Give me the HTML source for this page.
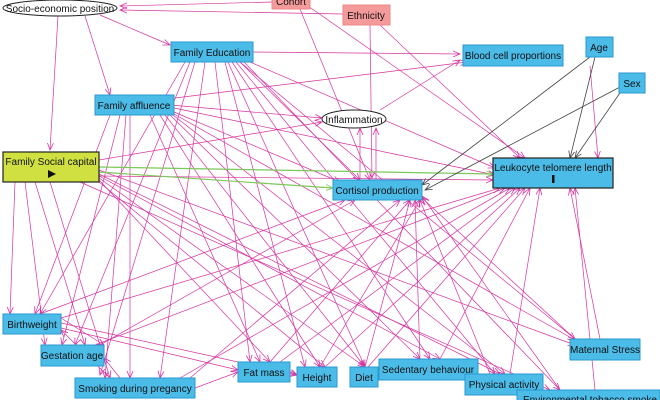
<!DOCTYPE html>
<html><head><meta charset="utf-8"><style>
body{margin:0;background:#fff;width:660px;height:400px;overflow:hidden}
svg{display:block}
text{font-family:"Liberation Sans",sans-serif;font-size:10px;fill:#111}
</style></head><body>
<svg width="660" height="400" xmlns="http://www.w3.org/2000/svg">
<defs>
<marker id="mp" markerWidth="8" markerHeight="8" refX="7" refY="4" orient="auto" markerUnits="userSpaceOnUse"><path d="M0,1 L7,4 L0,7" fill="none" stroke="#d6339f" stroke-width="0.8"/></marker>
<marker id="mg" markerWidth="8" markerHeight="8" refX="7" refY="4" orient="auto" markerUnits="userSpaceOnUse"><path d="M0,1 L7,4 L0,7" fill="none" stroke="#444" stroke-width="0.8"/></marker>
<marker id="mq" markerWidth="8" markerHeight="8" refX="7" refY="4" orient="auto" markerUnits="userSpaceOnUse"><path d="M0,1 L7,4 L0,7" fill="none" stroke="#7cc85a" stroke-width="0.8"/></marker>
</defs>
<g stroke="#d6339f" stroke-width="0.7" marker-end="url(#mp)">
<line x1="272" y1="2" x2="120" y2="6"/><line x1="343" y1="14" x2="120" y2="10"/><line x1="100" y1="15" x2="170" y2="45"/><line x1="85" y1="16" x2="110" y2="95"/><line x1="58" y1="16" x2="50" y2="150"/>
<line x1="300" y1="9" x2="370" y2="180"/><line x1="308" y1="6" x2="525" y2="158"/><line x1="380" y1="25" x2="520" y2="158"/><line x1="370" y1="25" x2="372" y2="178"/>
<line x1="253" y1="52" x2="460" y2="54"/><line x1="250" y1="62" x2="495" y2="168"/><line x1="240" y1="62" x2="360" y2="180"/>
<line x1="170" y1="105" x2="322" y2="118"/><line x1="174" y1="108" x2="495" y2="175"/><line x1="174" y1="112" x2="340" y2="182"/><line x1="175" y1="98" x2="467" y2="62"/>
<line x1="99" y1="160" x2="322" y2="122"/><line x1="99" y1="176" x2="493" y2="180"/>
<line x1="380" y1="110" x2="460" y2="60"/><line x1="376" y1="179" x2="376" y2="128"/><line x1="360" y1="180" x2="360" y2="128"/>
<line x1="590" y1="66" x2="598" y2="158"/>
<line x1="195" y1="62" x2="100" y2="375"/><line x1="205" y1="62" x2="160" y2="378"/><line x1="215" y1="62" x2="250" y2="362"/><line x1="225" y1="62" x2="305" y2="367"/><line x1="228" y1="62" x2="365" y2="367"/><line x1="232" y1="62" x2="430" y2="359"/><line x1="236" y1="62" x2="495" y2="374"/><line x1="240" y1="62" x2="575" y2="339"/><line x1="244" y1="62" x2="560" y2="390"/><line x1="190" y1="62" x2="75" y2="345"/><line x1="185" y1="62" x2="40" y2="314"/>
<line x1="120" y1="115" x2="62" y2="345"/><line x1="126" y1="115" x2="105" y2="378"/><line x1="130" y1="115" x2="130" y2="378"/><line x1="150" y1="115" x2="260" y2="362"/><line x1="160" y1="115" x2="320" y2="367"/><line x1="165" y1="115" x2="365" y2="367"/><line x1="170" y1="115" x2="420" y2="359"/><line x1="173" y1="115" x2="505" y2="374"/><line x1="174" y1="114" x2="575" y2="340"/><line x1="110" y1="115" x2="35" y2="314"/>
<line x1="15" y1="182" x2="10" y2="314"/><line x1="25" y1="182" x2="45" y2="345"/><line x1="35" y1="182" x2="85" y2="345"/><line x1="50" y1="182" x2="110" y2="378"/><line x1="99" y1="180" x2="270" y2="362"/><line x1="99" y1="182" x2="325" y2="367"/><line x1="99" y1="178" x2="365" y2="367"/><line x1="99" y1="176" x2="440" y2="359"/><line x1="99" y1="174" x2="500" y2="374"/><line x1="99" y1="170" x2="575" y2="345"/><line x1="80" y1="182" x2="550" y2="390"/>
<line x1="40" y1="314" x2="345" y2="200"/><line x1="61" y1="318" x2="500" y2="188"/><line x1="100" y1="345" x2="355" y2="200"/><line x1="95" y1="345" x2="505" y2="188"/><line x1="190" y1="378" x2="400" y2="200"/><line x1="180" y1="378" x2="510" y2="188"/><line x1="270" y1="362" x2="410" y2="200"/><line x1="280" y1="362" x2="515" y2="188"/><line x1="320" y1="367" x2="420" y2="200"/><line x1="325" y1="367" x2="520" y2="188"/><line x1="365" y1="367" x2="410" y2="200"/><line x1="368" y1="367" x2="525" y2="188"/><line x1="440" y1="359" x2="530" y2="188"/><line x1="420" y1="359" x2="415" y2="200"/><line x1="510" y1="374" x2="540" y2="188"/><line x1="490" y1="374" x2="420" y2="200"/><line x1="595" y1="390" x2="575" y2="188"/><line x1="600" y1="339" x2="570" y2="188"/><line x1="575" y1="339" x2="422" y2="198"/><line x1="560" y1="390" x2="422" y2="196"/>
<line x1="61" y1="328" x2="238" y2="370"/><line x1="61" y1="323" x2="297" y2="375"/><line x1="195" y1="388" x2="238" y2="372"/><line x1="290" y1="372" x2="297" y2="375"/><line x1="120" y1="378" x2="104" y2="358"/><line x1="110" y1="378" x2="61" y2="330"/><line x1="61" y1="318" x2="104" y2="345"/>
</g>
<g stroke="#7cc85a" stroke-width="1.2" marker-end="url(#mq)">
<line x1="99" y1="167" x2="493" y2="174"/><line x1="99" y1="172" x2="333" y2="188"/>
</g>
<g stroke="#444" stroke-width="0.8" marker-end="url(#mg)">
<line x1="590" y1="57" x2="422" y2="185"/><line x1="595" y1="57" x2="570" y2="158"/><line x1="620" y1="87" x2="425" y2="190"/><line x1="622" y1="90" x2="575" y2="158"/>
</g>
<ellipse cx="60" cy="8" rx="57" ry="8" fill="#fff" stroke="#222"/>
<text x="60" y="12" text-anchor="middle">Socio-economic position</text>
<rect x="272" y="-5" width="38" height="14" fill="#f59a9a" stroke="#e88"/>
<text x="291" y="5" text-anchor="middle">Cohort</text>
<rect x="343" y="5" width="47" height="20" fill="#f59a9a" stroke="#e88"/>
<text x="366" y="19" text-anchor="middle">Ethnicity</text>
<rect x="171" y="42" width="82" height="20" fill="#4bbbe8" stroke="#2a9ad0"/>
<text x="212" y="56" text-anchor="middle">Family Education</text>
<rect x="95" y="95" width="79" height="20" fill="#4bbbe8" stroke="#2a9ad0"/>
<text x="134" y="109" text-anchor="middle">Family affluence</text>
<rect x="3" y="152" width="96" height="30" fill="#cfe040" stroke="#222" stroke-width="1.2"/>
<text x="51" y="165" text-anchor="middle">Family Social capital</text>
<path d="M48,170 L56,174 L48,178Z" fill="#111"/>
<ellipse cx="354" cy="119" rx="32" ry="9" fill="#fff" stroke="#222"/>
<text x="354" y="123" text-anchor="middle">Inflammation</text>
<rect x="463" y="45" width="100" height="21" fill="#4bbbe8" stroke="#2a9ad0"/>
<text x="513" y="59" text-anchor="middle">Blood cell proportions</text>
<rect x="586" y="37" width="27" height="20" fill="#4bbbe8" stroke="#2a9ad0"/>
<text x="599" y="51" text-anchor="middle">Age</text>
<rect x="619" y="73" width="26" height="20" fill="#4bbbe8" stroke="#2a9ad0"/>
<text x="632" y="87" text-anchor="middle">Sex</text>
<rect x="493" y="158" width="120" height="30" fill="#4bbbe8" stroke="#222" stroke-width="1.2"/>
<text x="553" y="171" text-anchor="middle">Leukocyte telomere length</text>
<rect x="552" y="175" width="2.5" height="8" fill="#111"/>
<rect x="333" y="180" width="89" height="20" fill="#4bbbe8" stroke="#2a9ad0"/>
<text x="377" y="194" text-anchor="middle">Cortisol production</text>
<rect x="3" y="314" width="58" height="20" fill="#4bbbe8" stroke="#2a9ad0"/>
<text x="32" y="328" text-anchor="middle">Birthweight</text>
<rect x="41" y="345" width="63" height="21" fill="#4bbbe8" stroke="#2a9ad0"/>
<text x="72" y="359" text-anchor="middle">Gestation age</text>
<rect x="75" y="378" width="120" height="20" fill="#4bbbe8" stroke="#2a9ad0"/>
<text x="135" y="392" text-anchor="middle">Smoking during pregancy</text>
<rect x="238" y="362" width="52" height="20" fill="#4bbbe8" stroke="#2a9ad0"/>
<text x="264" y="376" text-anchor="middle">Fat mass</text>
<rect x="297" y="367" width="40" height="20" fill="#4bbbe8" stroke="#2a9ad0"/>
<text x="317" y="381" text-anchor="middle">Height</text>
<rect x="350" y="367" width="28" height="20" fill="#4bbbe8" stroke="#2a9ad0"/>
<text x="364" y="381" text-anchor="middle">Diet</text>
<rect x="379" y="359" width="99" height="21" fill="#4bbbe8" stroke="#2a9ad0"/>
<text x="428" y="373" text-anchor="middle">Sedentary behaviour</text>
<rect x="465" y="374" width="78" height="21" fill="#4bbbe8" stroke="#2a9ad0"/>
<text x="504" y="388" text-anchor="middle">Physical activity</text>
<rect x="517" y="390" width="143" height="20" fill="#4bbbe8" stroke="#2a9ad0"/>
<text x="590" y="403" text-anchor="middle">Environmental tobacco smoke</text>
<rect x="570" y="339" width="70" height="21" fill="#4bbbe8" stroke="#2a9ad0"/>
<text x="605" y="353" text-anchor="middle">Maternal Stress</text>
</svg>
</body></html>
